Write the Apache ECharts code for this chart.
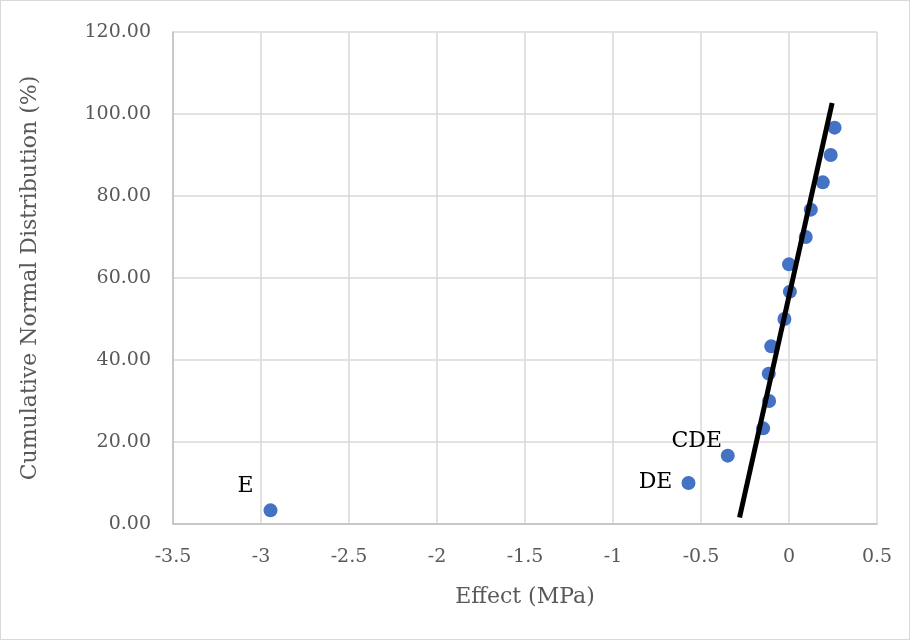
<!DOCTYPE html>
<html>
<head>
<meta charset="utf-8">
<script src="https://cdn.jsdelivr.net/npm/echarts@6/dist/echarts.min.js"></script>
<style>
html,body{margin:0;padding:0;background:#fff;}
#wrap{position:absolute;left:0;top:0;width:908px;height:638px;border:1px solid #d9d9d9;}
#chart{width:908px;height:638px;}
</style>
</head>
<body>
<div id="wrap"><div id="chart"></div></div>
<script>
const effects = [-2.946, -0.571, -0.348, -0.147, -0.113, -0.115, -0.101, -0.026, 0.005, 0.0, 0.095, 0.124, 0.192, 0.237, 0.259];
const cumulative = [3.33, 10.00, 16.67, 23.33, 30.00, 36.67, 43.33, 50.00, 56.67, 63.33, 70.00, 76.67, 83.33, 90.00, 96.67];
const pointLabels = ["E", "DE", "CDE", "", "", "", "", "", "", "", "", "", "", "", ""];
const fitLineX = [-0.281, 0.245];
const fitLineY = [1.6, 102.7];
const xTitle = "Effect (MPa)";
const yTitle = "Cumulative Normal Distribution (%)";

const FONT = "DejaVu Serif";
const labelCfg = {
  "E":   {position: [-18, -17]},
  "DE":  {position: [-26, 6]},
  "CDE": {position: [-24, -7]}
};

const scatterData = effects.map((x, i) => {
  const item = {value: [x, cumulative[i]]};
  const t = pointLabels[i];
  if (t) {
    item.label = Object.assign({show: true, formatter: t, color: '#000', fontFamily: FONT, fontSize: 22,
      align: 'center', verticalAlign: 'middle'}, labelCfg[t]);
  }
  return item;
});

const chart = echarts.init(document.getElementById('chart'), null, {renderer: 'canvas'});
chart.setOption({
  animation: false,
  grid: {left: 172, right: 32, top: 31, bottom: 115, containLabel: false},
  xAxis: {
    type: 'value', min: -3.5, max: 0.5, interval: 0.5,
    name: xTitle, nameLocation: 'middle', nameGap: 62,
    nameTextStyle: {color: '#595959', fontFamily: FONT, fontSize: 22},
    axisLine: {show: true, onZero: false, lineStyle: {color: '#bfbfbf', width: 1.5}},
    axisTick: {show: false},
    axisLabel: {color: '#595959', fontFamily: FONT, fontSize: 19, margin: 24},
    splitLine: {show: true, lineStyle: {color: '#d9d9d9', width: 1.5}}
  },
  yAxis: {
    type: 'value', min: 0, max: 120, interval: 20,
    name: yTitle, nameLocation: 'middle', nameGap: 132,
    nameTextStyle: {color: '#595959', fontFamily: FONT, fontSize: 22},
    axisLine: {show: true, onZero: false, lineStyle: {color: '#bfbfbf', width: 1.5}},
    axisTick: {show: false},
    axisLabel: {color: '#595959', fontFamily: FONT, fontSize: 19, margin: 22, formatter: v => v.toFixed(2)},
    splitLine: {show: true, lineStyle: {color: '#d9d9d9', width: 1.5}}
  },
  series: [
    {
      type: 'scatter', symbol: 'circle', symbolSize: 14,
      itemStyle: {color: '#4472C4', opacity: 1},
      data: scatterData, z: 2
    },
    {
      type: 'line', showSymbol: false, symbol: 'none',
      lineStyle: {color: '#000', width: 5},
      data: fitLineX.map((x, i) => [x, fitLineY[i]]), z: 3
    }
  ]
});
</script>
</body>
</html>
